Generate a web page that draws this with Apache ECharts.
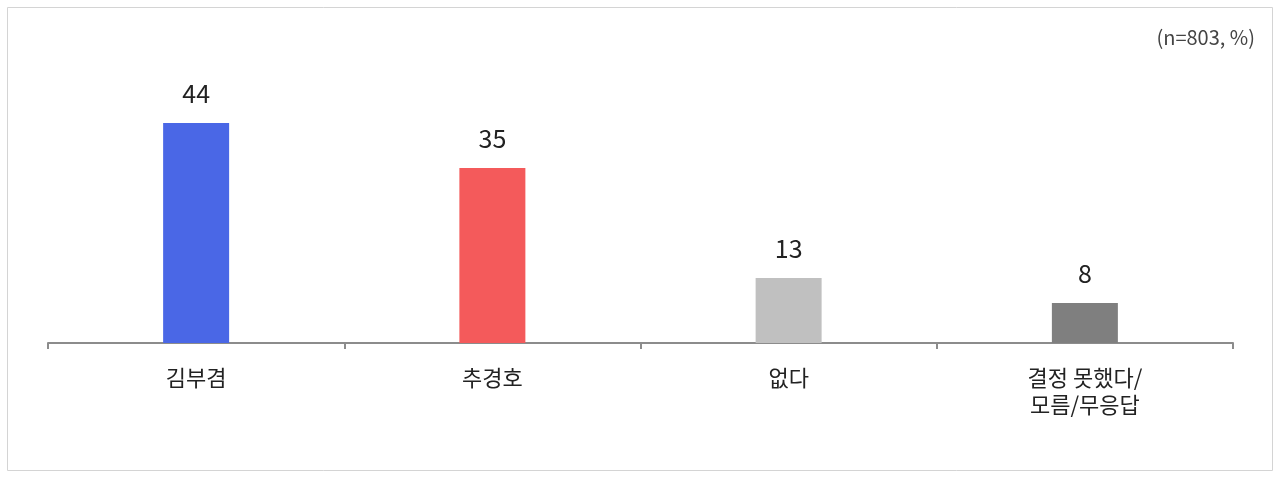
<!DOCTYPE html>
<html>
<head>
<meta charset="utf-8">
<script src="https://cdn.jsdelivr.net/npm/echarts@6/dist/echarts.min.js"></script>
<style>
  html, body { margin: 0; padding: 0; background: #fff; }
  #chart { width: 1280px; height: 477px; }
</style>
</head>
<body>
<div id="chart"></div>
<script>
// 응답 항목과 값 (n=803, %)
var categories = ['김부겸', '추경호', '없다', '결정 못했다/\n모름/무응답'];
var values = [44, 35, 13, 8];
var barColors = ['#4a67e6', '#f45a5b', '#c0c0c0', '#7f7f7f'];
var noteText = '(n=803, %)';

var myChart = echarts.init(document.getElementById('chart'));

var option = {
    backgroundColor: '#fff',
    animation: false,
    textStyle: {
        fontFamily: '"Noto Sans CJK KR", "Noto Sans", sans-serif'
    },
    graphic: [
        {
            type: 'rect',
            shape: { x: 7.5, y: 7.5, width: 1265, height: 463 },
            style: { fill: 'none', stroke: '#d4d4d4', lineWidth: 1 }
        },
        {
            type: 'text',
            right: 25,
            top: 27,
            style: {
                text: noteText,
                fill: '#444',
                font: '20px "Noto Sans CJK KR", sans-serif'
            }
        }
    ],
    grid: {
        left: 48,
        right: 47,
        top: 93,
        bottom: 134
    },
    xAxis: {
        type: 'category',
        data: categories,
        axisLine: { lineStyle: { color: '#8c8c8c', width: 2 } },
        axisTick: { show: true, length: 6, lineStyle: { color: '#8c8c8c', width: 2 } },
        axisLabel: {
            color: '#222',
            fontSize: 22,
            margin: 21,
            lineHeight: 27,
            interval: 0
        }
    },
    yAxis: {
        type: 'value',
        min: 0,
        max: 50,
        show: false,
        splitLine: { show: false }
    },
    series: [{
        type: 'bar',
        barWidth: 66,
        data: values.map(function (v, i) {
            return { value: v, itemStyle: { color: barColors[i] } };
        }),
        label: {
            show: true,
            position: 'top',
            distance: 17,
            color: '#222',
            fontSize: 25
        }
    }]
};

myChart.setOption(option);
</script>
</body>
</html>
